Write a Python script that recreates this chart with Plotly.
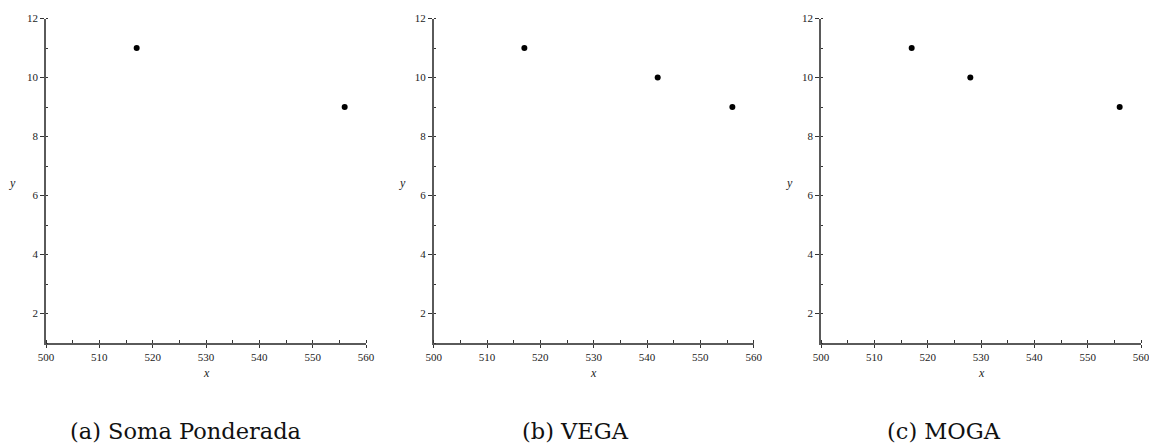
import plotly.graph_objects as go

# Data
captions = ["(a) Soma Ponderada", "(b) VEGA", "(c) MOGA"]
x_a = [517, 556]
y_a = [11, 9]
x_b = [517, 542, 556]
y_b = [11, 10, 9]
x_c = [517, 528, 556]
y_c = [11, 10, 9]
x_ticks = [500, 510, 520, 530, 540, 550, 560]
y_ticks = [2, 4, 6, 8, 10, 12]

# page body has an 8px margin; work in screen pixels and convert
OFF = 8
W, H = 1157 - OFF, 446 - OFF
series = [(x_a, y_a), (x_b, y_b), (x_c, y_c)]
left_px = [46, 433.7, 821]
plot_w = 320
top_px, bot_px = 18.5, 343


def px(sx):
    return (sx - OFF) / W


def py(sy):
    return (H - (sy - OFF)) / H


fig = go.Figure()
axis_col = "#5a5a5a"
tickfont = dict(family="Liberation Serif, Times New Roman, serif", size=11, color="#222")

for i, (xs, ys) in enumerate(series):
    n = "" if i == 0 else str(i + 1)
    fig.add_trace(go.Scatter(
        x=xs, y=ys, mode="markers",
        marker=dict(color="black", size=6),
        xaxis="x" + n, yaxis="y" + n, showlegend=False, hoverinfo="skip"))
    fig.update_layout(**{
        "xaxis" + n: dict(
            domain=[px(left_px[i]), px(left_px[i] + plot_w)], range=[500, 560],
            anchor="y" + n, automargin=False,
            tickvals=x_ticks, ticks="outside", ticklen=3, tickwidth=1.2,
            tickcolor="#333", showline=True, linecolor=axis_col, linewidth=1.6,
            showgrid=False, zeroline=False, tickfont=tickfont,
            minor=dict(dtick=5, ticks="inside", ticklen=3, tickcolor="#333", tickwidth=1.2, showgrid=False)),
        "yaxis" + n: dict(
            domain=[py(bot_px), py(top_px)], range=[1, 12], anchor="x" + n, automargin=False,
            tickvals=y_ticks, ticks="outside", ticklen=4, tickwidth=1.2,
            tickcolor="#333", showline=True, linecolor=axis_col, linewidth=1.6,
            showgrid=False, zeroline=False, tickfont=tickfont,
            minor=dict(dtick=1, ticks="inside", ticklen=2, tickcolor="#333", tickwidth=1.2, showgrid=False)),
    })

annotations = []
cap_centers = [186, 575, 944]
ylab_x = [12, 402, 789]
for i in range(3):
    cx = left_px[i] + plot_w / 2
    annotations.append(dict(
        x=px(cx), y=py(373), xref="paper", yref="paper",
        text="<i>x</i>", showarrow=False, xanchor="center", yanchor="middle",
        font=dict(family="Liberation Serif, serif", size=12, color="#222")))
    annotations.append(dict(
        x=px(ylab_x[i]), y=py(183), xref="paper", yref="paper",
        text="<i>y</i>", showarrow=False, xanchor="center", yanchor="middle",
        font=dict(family="Liberation Serif, serif", size=12, color="#222")))
    annotations.append(dict(
        x=px(cap_centers[i]), y=py(431), xref="paper", yref="paper",
        text=captions[i], showarrow=False, xanchor="center", yanchor="middle",
        font=dict(family="DejaVu Serif, serif", size=22.5, color="#111")))

fig.update_layout(
    width=W, height=H, margin=dict(l=0, r=0, t=0, b=0),
    paper_bgcolor="white", plot_bgcolor="white",
    annotations=annotations)

fig.write_html("out.html")
